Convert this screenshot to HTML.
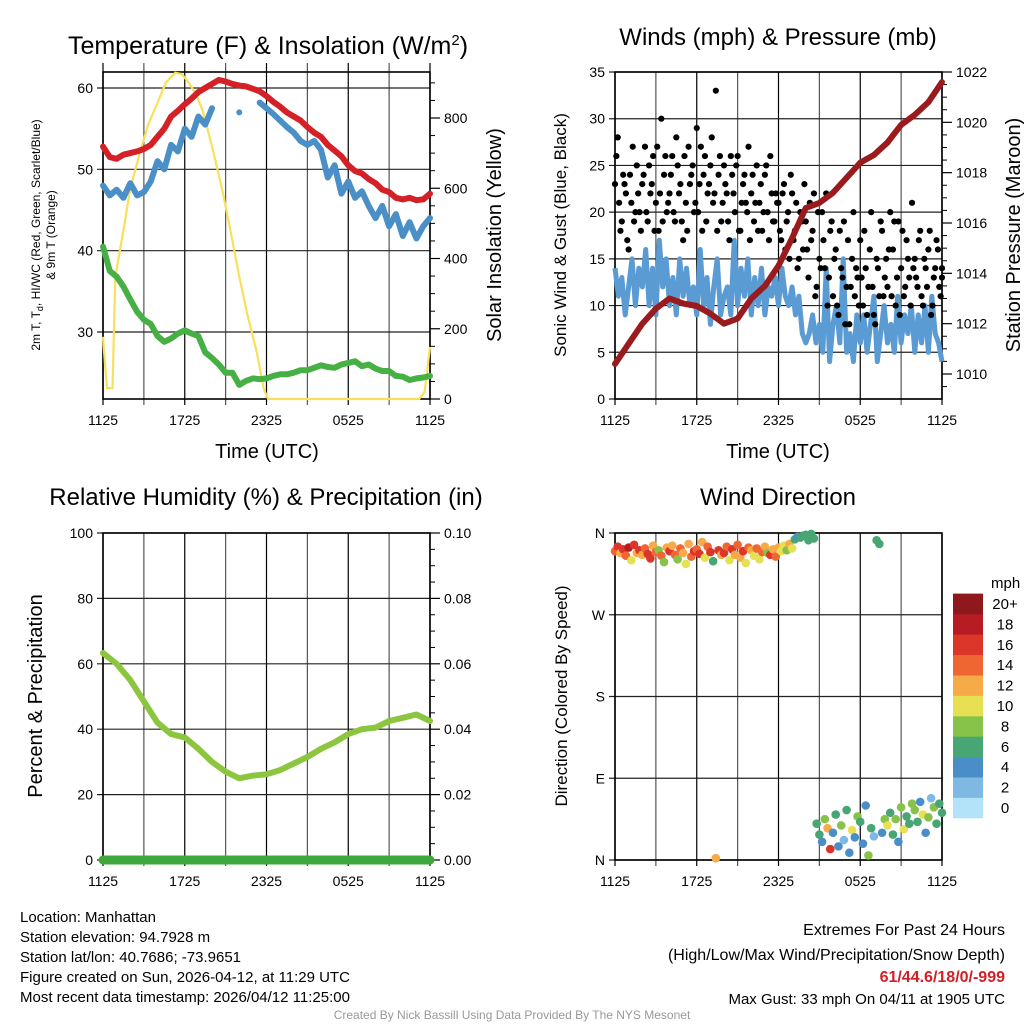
<!DOCTYPE html>
<html><head><meta charset="utf-8"><style>
body{margin:0;background:#fff;}
svg text{font-family:"Liberation Sans",sans-serif;fill:#000;}
</style></head><body>
<svg id="root" xmlns="http://www.w3.org/2000/svg" width="1024" height="1024" viewBox="0 0 1024 1024">
<rect width="1024" height="1024" fill="#fff"/>
<g id="p1"></g>
<g id="p2"></g>
<g id="p3"></g>
<g id="p4"></g>
<text x="268" y="54" font-size="25" text-anchor="middle">Temperature (F) &amp; Insolation (W/m<tspan dy="-9" font-size="15">2</tspan><tspan dy="9">)</tspan></text>
<text x="778" y="45" font-size="24" text-anchor="middle">Winds (mph) &amp; Pressure (mb)</text>
<text x="266" y="505" font-size="24" text-anchor="middle">Relative Humidity (%) &amp; Precipitation (in)</text>
<text x="778" y="505" font-size="24" text-anchor="middle">Wind Direction</text>
<text transform="translate(40,235) rotate(-90)" font-size="12" text-anchor="middle">2m T, T<tspan font-size="9" dy="3">d</tspan><tspan dy="-3">, HI/WC (Red, Green, Scarlet/Blue)</tspan></text>
<text transform="translate(55,235) rotate(-90)" font-size="12" text-anchor="middle">&amp; 9m T (Orange)</text>
<text transform="translate(501,235) rotate(-90)" font-size="20" text-anchor="middle">Solar Insolation (Yellow)</text>
<text x="267" y="458" font-size="20" text-anchor="middle">Time (UTC)</text>
<text x="778" y="458" font-size="20" text-anchor="middle">Time (UTC)</text>
<text transform="translate(566,235) rotate(-90)" font-size="17" text-anchor="middle">Sonic Wind &amp; Gust (Blue, Black)</text>
<text transform="translate(1020,235) rotate(-90)" font-size="20" text-anchor="middle">Station Pressure (Maroon)</text>
<text transform="translate(42,696) rotate(-90)" font-size="20" text-anchor="middle">Percent &amp; Precipitation</text>
<text transform="translate(567,696) rotate(-90)" font-size="17" text-anchor="middle">Direction (Colored By Speed)</text>
<text x="991" y="588" font-size="15">mph</text>
<g font-size="15">
<text x="20" y="922">Location: Manhattan</text>
<text x="20" y="942">Station elevation: 94.7928 m</text>
<text x="20" y="962">Station lat/lon: 40.7686; -73.9651</text>
<text x="20" y="982">Figure created on Sun, 2026-04-12, at 11:29 UTC</text>
<text x="20" y="1002">Most recent data timestamp: 2026/04/12 11:25:00</text>
</g>
<g font-size="16" text-anchor="end">
<text x="1005" y="935">Extremes For Past 24 Hours</text>
<text x="1005" y="960">(High/Low/Max Wind/Precipitation/Snow Depth)</text>
<text x="1005" y="982" font-weight="bold" style="fill:#d21f26">61/44.6/18/0/-999</text>
<text x="1005" y="1004" font-size="15">Max Gust: 33 mph On 04/11 at 1905 UTC</text>
</g>
<text x="512" y="1019" font-size="12" text-anchor="middle" style="fill:#999">Created By Nick Bassill Using Data Provided By The NYS Mesonet</text>
</svg>
<script>
// ---------- data ----------
const xTickLabels = ["1125","1725","2325","0525","1125"];
const tempF = [52.8,51.5,51.3,51.8,52,52.2,52.5,53,54,55,56.5,57.2,58,58.7,59.5,60,60.5,61,60.8,60.5,60.3,60.2,59.9,59.6,59,58.3,57.7,57,56.5,56,55.2,54.5,54,53,52.3,51.6,50.5,49.8,49.5,48.8,48.3,47.5,47.2,46.5,46.3,46.5,46.2,46.3,47];
const hiwcF = [48,46.8,47.5,46.5,48.3,46.8,47.2,48.5,51,50,53,52.2,55,54,56.5,55.5,57.5,null,null,null,57,null,null,58.2,57.5,56.8,56,55.2,54.5,53.5,53,53.5,52.4,49,50.5,47,48.5,46.5,47.3,45.5,44,45.5,43,44.5,41.8,43.5,41.5,43,44];
const dewF = [40.5,37.5,36.8,35.6,34,32.5,31.5,31,29.5,28.8,29.2,29.8,30.2,29.8,29.5,27.5,26.8,26,25,25,23.5,24,24.3,24.2,24.3,24.6,24.8,24.8,25,25.3,25.3,25.6,25.9,25.7,25.6,26,26.2,26.4,25.8,26,25.5,25.2,25.2,24.6,24.5,24.1,24.3,24.4,24.6];
const solarHours = [0,0.1,0.3,0.6,0.7,0.9,1.5,2,2.7,3.3,4,4.6,5.3,5.8,6.3,6.8,7.3,8,8.8,9.4,10,10.6,11.3,11.8,12.1,15,20,23.2,23.6,24];
const solarWm2 = [177,120,31,31,31,348,480,600,700,780,843,900,929,925,900,870,823,720,587,470,348,240,131,30,0,0,0,0,20,148];
const windMph = [14,11,13,9,12,15,10,14,12,16,10,14,9,17,12,15,10,13,9,15,11,14,10,12,9,16,10,13,8,12,15,9,11,12,9,17,10,14,11,15,9,13,10,14,9,12,11,13,10,14,11,10,12,9,11,7,6,7,9,6,8,5,14,4,8,10,6,15,5,7,4,9,6,9,5,8,11,4,7,10,6,8,5,11,6,9,7,10,5,9,6,10,5,11,7,6,4];
const gustA = [23,28,18,24,22,16,21,19,25,20,23,27,19,22,26,21,18,30,24,20,22,26,19,25,23,17,21,27,24,20,29,23,18,26,22,25,21,33,24,19,25,22,17,24,20,26,18,23,21,27,22,19,25,21,18,24,20,26,19,22,21,17,23,19,15,22,18,14,20,16,19,13,17,22,12,15,20,14,10,18,11,16,9,14,19,12,8,15,11,13,17,10,14,12,20,9,15,11,18,13,12,20,16,10,19,14,11,17,13,21,15,12,18,10,14,16,9,13,17,12,14];
const gustB = [26,21,19,23,17,24,27,20,22,18,24,20,25,23,18,27,22,19,26,21,24,20,28,22,19,26,18,23,25,21,20,27,24,19,23,28,22,18,26,21,23,19,26,22,25,18,21,24,20,17,24,21,18,23,20,25,17,22,19,21,18,22,16,20,24,17,21,15,19,23,16,21,18,11,20,14,17,22,13,19,15,10,18,13,8,17,12,20,14,10,13,18,9,16,12,8,14,19,11,15,16,11,19,13,9,18,12,15,10,14,13,17,11,15,12,18,10,14,16,11,13];
const pressureMb = [1010.4,1011.2,1012.0,1012.6,1013.0,1012.8,1012.7,1012.4,1012.0,1012.2,1013.0,1013.5,1014.3,1015.4,1016.6,1016.8,1017.2,1017.8,1018.4,1018.7,1019.2,1019.9,1020.3,1020.8,1021.6];
const rhPct = [63.3,60,55,48.5,42,38.5,37.5,34,30,27,25,25.8,26.2,27.5,29.5,31.5,34,36,38.5,40,40.5,42.5,43.5,44.5,42.5];
const precipIn = [0,0,0,0,0,0,0,0,0,0,0,0,0,0,0,0,0,0,0,0,0,0,0,0,0];
const windDirDeg = [340,345,338,342,335,344,330,347,338,341,336,343,337,332,346,339,341,335,328,344,340,346,336,331,343,338,326,348,334,340,342,337,350,333,345,339,329,2,341,336,338,345,330,342,336,347,333,340,327,344,341,335,343,331,339,345,338,336,342,334,344,340,346,341,348,343,353,356,355,357,358,352,359,354,40,28,20,45,35,12,30,50,15,38,22,55,8,33,25,48,42,18,60,5,35,26,352,348,30,45,38,52,28,45,20,58,34,48,40,62,55,42,64,50,30,47,68,58,40,62,52];
const windDirSpeed = [15,17,13,16,14,18,10,16,13,17,12,14,17,16,13,15,9,14,8,12,16,13,15,9,14,12,10,13,15,16,14,16,13,10,15,17,7,12,16,13,17,15,11,16,13,14,12,16,10,15,13,11,14,10,15,12,9,16,12,14,12,10,11,9,12,10,6,5,6,6,6,6,6,7,6,7,5,8,12,16,4,7,5,9,3,6,4,10,5,8,6,4,5,8,7,3,6,6,4,9,10,7,6,9,5,8,10,6,7,8,9,7,5,10,4,8,3,9,7,6,7];
const cbLabels = ["0","2","4","6","8","10","12","14","16","18","20+"];
const cbColors = ["#b3e3f8","#7fb8e3","#4a8ec8","#47a673","#86c348","#e6e052","#f6aa48","#ef6632","#dc3529","#b71c24","#8f181c"];

// ---------- helpers ----------
const NS="http://www.w3.org/2000/svg";
function mk(parent,tag,attrs){const e=document.createElementNS(NS,tag);for(const k in attrs)e.setAttribute(k,attrs[k]);parent.appendChild(e);return e;}
function lin(d0,d1,r0,r1){return v=>r0+(v-d0)*(r1-r0)/(d1-d0);}
function frame(g,x0,x1,y0,y1,ticksY,sy,labY,extY){
  const sx=lin(0,24,x0,x1);
  for(let h=0;h<=24;h+=3){const l=mk(g,'line',{x1:sx(h),x2:sx(h),y1:y0-(extY||0),y2:y1+6,stroke:h%6?'#555':'#000','stroke-width':1.2});
    }
  xTickLabels.forEach((s,i)=>{const t=mk(g,'text',{x:sx(i*6),y:y1+26,'font-size':14,'text-anchor':'middle'});t.textContent=s;
    });
  ticksY.forEach((v,i)=>{const y=sy(v);const l=mk(g,'line',{x1:x0-6,x2:x1,y1:y,y2:y,stroke:'#222','stroke-width':1.2});
    
    if(labY){const t=mk(g,'text',{x:x0-10,y:y+5,'font-size':14,'text-anchor':'end'});t.textContent=labY[i];
    }});
  const b=mk(g,'rect',{x:x0,y:y0,width:x1-x0,height:y1-y0,fill:'none',stroke:'#000','stroke-width':1.6});
  
  return sx;
}
function rightAxis(g,x1,vals,sy,labels,minor){
  minor.forEach(v=>{const l=mk(g,'line',{x1:x1,x2:x1+5,y1:sy(v),y2:sy(v),stroke:'#000'});});
  vals.forEach((v,i)=>{const y=sy(v);const l=mk(g,'line',{x1:x1,x2:x1+10,y1:y,y2:y,stroke:'#000','stroke-width':1.2});
    
    const t=mk(g,'text',{x:x1+14,y:y+5,'font-size':14});t.textContent=labels[i];
    });
}
function pathOf(xs,ys,sx,sy){let d='',pen=false;for(let i=0;i<xs.length;i++){if(ys[i]==null){pen=false;continue;}
  d+=(pen?'L':'M')+sx(xs[i]).toFixed(1)+','+sy(ys[i]).toFixed(1);pen=true;}return d;}
function hours(n,step){return Array.from({length:n},(_,i)=>i*step);}

// ---------- panel 1 ----------
(function(){
  const g=document.getElementById('p1');
  const x0=103,x1=430,y0=72,y1=399;
  const sy=lin(60,30,88,332);
  const sr=lin(0,800,399,118);
  const sx=frame(g,x0,x1,y0,y1,[60,50,40,30],sy,["60","50","40","30"],9);
  rightAxis(g,x1,[0,200,400,600,800],sr,["0","200","400","600","800"],[50,100,150,250,300,350,450,500,550,650,700,750,850,900]);
  const hh=hours(tempF.length,0.5);
  let p=mk(g,'path',{d:pathOf(solarHours,solarWm2,sx,sr),fill:'none',stroke:'#f8e05a','stroke-width':2.2});
  
  p=mk(g,'path',{d:pathOf(hh,dewF,sx,sy),fill:'none',stroke:'#46b044','stroke-width':6,'stroke-linejoin':'round','stroke-linecap':'round'});
  
  p=mk(g,'path',{d:pathOf(hh,tempF,sx,sy),fill:'none',stroke:'#d42027','stroke-width':6,'stroke-linejoin':'round','stroke-linecap':'round'});
  
  p=mk(g,'path',{d:pathOf(hh,hiwcF,sx,sy),fill:'none',stroke:'#4a8fc8','stroke-width':6,'stroke-linejoin':'round','stroke-linecap':'round'});
  
  hiwcF.forEach((v,i)=>{if(v!=null&&hiwcF[i-1]==null&&hiwcF[i+1]==null){const c=mk(g,'circle',{cx:sx(hh[i]),cy:sy(v),r:3,fill:'#4a8fc8'});
    }});
})();

// ---------- panel 2 ----------
(function(){
  const g=document.getElementById('p2');
  const x0=615,x1=942,y0=72,y1=399;
  const sy=lin(0,35,399,72);
  const sp=lin(1010,1022,374,72);
  const sx=frame(g,x0,x1,y0,y1,[0,5,10,15,20,25,30,35],sy,["0","5","10","15","20","25","30","35"]);
  rightAxis(g,x1,[1010,1012,1014,1016,1018,1020,1022],sp,["1010","1012","1014","1016","1018","1020","1022"],[1009.5,1010.5,1011,1011.5,1012.5,1013,1013.5,1014.5,1015,1015.5,1016.5,1017,1017.5,1018.5,1019,1019.5,1020.5,1021,1021.5]);
  let p=mk(g,'path',{d:pathOf(hours(windMph.length,0.25),windMph,sx,sy),fill:'none',stroke:'#5a9bd4','stroke-width':5,'stroke-linejoin':'round'});
  
  gustA.forEach((v,i)=>{const c=mk(g,'circle',{cx:sx(i*0.2),cy:sy(v),r:3.1,fill:'#000'});
    });
  gustB.forEach((v,i)=>{const c=mk(g,'circle',{cx:sx(Math.min(24,i*0.2+0.1)),cy:sy(v),r:3.1,fill:'#000'});
    });
  p=mk(g,'path',{d:pathOf(hours(pressureMb.length,1),pressureMb,sx,sp),fill:'none',stroke:'#991b1e','stroke-width':6,'stroke-linejoin':'round','stroke-linecap':'round'});
  
})();

// ---------- panel 3 ----------
(function(){
  const g=document.getElementById('p3');
  const x0=103,x1=430,y0=533,y1=860;
  const sy=lin(0,100,860,533);
  const sq=lin(0,0.1,860,533);
  const sx=frame(g,x0,x1,y0,y1,[0,20,40,60,80,100],sy,["0","20","40","60","80","100"]);
  rightAxis(g,x1,[0,0.02,0.04,0.06,0.08,0.1],sq,["0.00","0.02","0.04","0.06","0.08","0.10"],[0.005,0.01,0.015,0.025,0.03,0.035,0.045,0.05,0.055,0.065,0.07,0.075,0.085,0.09,0.095]);
  let p=mk(g,'path',{d:pathOf(hours(rhPct.length,1),rhPct,sx,sy),fill:'none',stroke:'#8cc63f','stroke-width':6,'stroke-linejoin':'round','stroke-linecap':'round'});
  
  p=mk(g,'path',{d:pathOf(hours(precipIn.length,1),precipIn,sx,sq),fill:'none',stroke:'#3fa83d','stroke-width':9,'stroke-linecap':'round'});
  
})();

// ---------- panel 4 ----------
(function(){
  const g=document.getElementById('p4');
  const x0=615,x1=942,y0=533,y1=860;
  const sy=lin(0,360,860,533);
  const sx=frame(g,x0,x1,y0,y1,[0,90,180,270,360],sy,["N","E","S","W","N"]);
  function col(s){const k=Math.min(10,Math.floor(s/2));return cbColors[k];}
  windDirDeg.forEach((d,i)=>{const c=mk(g,'circle',{cx:sx(i*0.2),cy:sy(d),r:4.3,fill:col(windDirSpeed[i])});
    });
  const cy0=818,bh=20.4;
  cbColors.forEach((c,i)=>{const r=mk(g,'rect',{x:953,y:cy0-(i+1)*bh,width:30,height:bh+0.3,fill:c});
    
    const t=mk(g,'text',{x:1005,y:cy0-i*bh-5,'font-size':15,'text-anchor':'middle'});t.textContent=cbLabels[i];
    });
})();
</script>
</body></html>
